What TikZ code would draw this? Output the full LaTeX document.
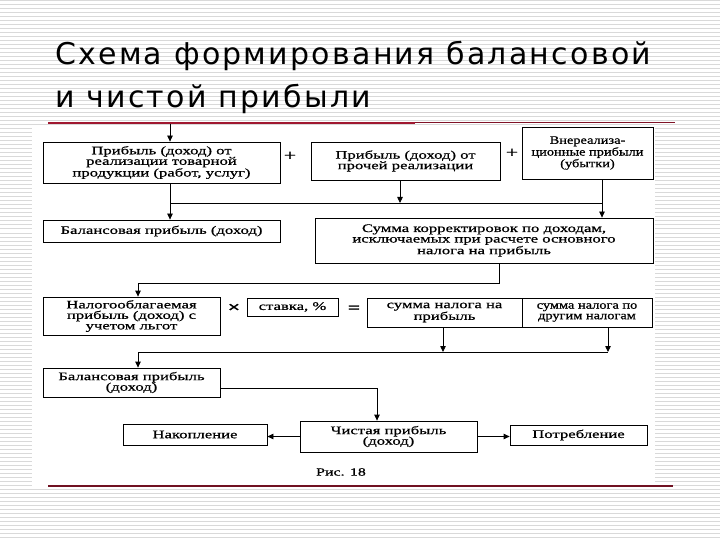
\documentclass[tikz,border=0pt]{standalone}
\usepackage{fontspec}
\setmainfont{Liberation Serif}
\newfontfamily\titlefont[LetterSpace=7.5]{DejaVu Sans}
\newfontfamily\boxfont[FakeStretch=1.45,FakeBold=0.8]{Liberation Serif}
\newfontfamily\boxfontn[FakeStretch=1.25,FakeBold=0.8]{Liberation Serif}
\usetikzlibrary{arrows.meta}
\definecolor{slidered}{HTML}{A01830}
\definecolor{stripe}{HTML}{D9D9D9}
\begin{document}
\begin{tikzpicture}[x=1pt,y=-1pt,
  box/.style={draw, line width=0.8pt, font=\boxfont\fontsize{11.5}{10.5}\selectfont, align=center, inner sep=0pt},
  narrow/.style={font=\boxfontn\fontsize{11.5}{10.5}\selectfont},
  ln/.style={line width=0.8pt},
  arr/.style={line width=0.8pt, -{Triangle[length=6pt,width=5.5pt]}},
  sym/.style={font=\boxfont\fontsize{15}{15}\selectfont, inner sep=0pt}]
\useasboundingbox (0,0) rectangle (720,540);
\fill[white] (0,0) rectangle (720,540);
\foreach \y in {1,5,...,539} \draw[stripe, line width=1pt] (0,\y) -- (720,\y);
\fill[white] (32,125) rectangle (655,487);
% title
\node[anchor=base west, inner sep=0pt, font=\titlefont\fontsize{30}{43}\selectfont] (t1) at (55,65) {Схема формирования балансовой};
\node[anchor=base west, inner sep=0pt, font=\titlefont\fontsize{30}{43}\selectfont] (t2) at (55,108) {и чистой прибыли};
\draw[slidered, line width=2.5pt] (48,123) -- (415,123);
\draw[slidered!80!black, line width=1pt] (415,123) -- (675,123);
\draw[slidered!70!black, line width=1.2pt] (48,486) -- (673,486);
% boxes
\node[box, minimum width=237pt, minimum height=41pt] (b1) at (161.5,162.5) {Прибыль (доход) от\\реализации товарной\\продукции (работ, услуг)};
\node[box, minimum width=189pt, minimum height=38pt] (b2) at (405.5,161) {Прибыль (доход) от\\прочей реализации};
\node[box, narrow, minimum width=131pt, minimum height=52pt] (b3) at (587.5,153) {Внереализа-\\ционные прибыли\\(убытки)};
\node[box, minimum width=237pt, minimum height=22pt] (b4) at (161.5,231) {Балансовая прибыль (доход)};
\node[box, minimum width=338pt, minimum height=45pt] (b6) at (484,240.5) {Сумма корректировок по доходам,\\исключаемых при расчете основного\\налога на прибыль};
\node[box, minimum width=177pt, minimum height=38pt] (b7) at (131.5,316) {Налогооблагаемая\\прибыль (доход) с\\учетом льгот};
\node[box, minimum width=91pt, minimum height=18pt] (b8) at (292.5,307) {ставка, \%};
\node[box, minimum width=155pt, minimum height=29pt] (b9) at (444.5,312.5) {сумма налога на\\прибыль};
\node[box, narrow, minimum width=130pt, minimum height=29pt] (b10) at (587,312.5) {сумма налога по\\другим налогам};
\node[box, minimum width=177pt, minimum height=29pt] (b11) at (131.5,382.5) {Балансовая прибыль\\(доход)};
\node[box, minimum width=177pt, minimum height=31pt] (b12) at (388.5,436.5) {Чистая прибыль\\(доход)};
\node[box, minimum width=144pt, minimum height=21pt] (b13) at (195,434.5) {Накопление};
\node[box, minimum width=137pt, minimum height=20pt] (b14) at (578.5,435) {Потребление};
\node[sym] (p1) at (290,156) {+};
\node[sym] (p2) at (512,153) {+};
\node[sym, font=\boxfont\bfseries\fontsize{15}{15}\selectfont] (mul) at (234,308) {×};
\node[sym, font=\boxfont\bfseries\fontsize{15}{15}\selectfont] (eq) at (354,309) {=};
\node[font=\boxfont\fontsize{11}{11}\selectfont, inner sep=0pt] (fig) at (341,472) {Рис. 18};
% connectors
\coordinate (top) at (170,124);
\coordinate (j1) at (170,203);
\coordinate (j2) at (602,203);
\coordinate (c2) at (400,203);
\draw[arr] (top) -- (top |- b1.north);
\draw[arr] (top |- b1.south) -- (top |- b4.north);
\draw[ln] (j1) -- (j2);
\draw[arr] (c2 |- b2.south) -- (c2);
\draw[arr] (j2 |- b3.south) -- (j2 |- b6.north);
\coordinate (k1) at (499,283);
\coordinate (k2) at (138,283);
\draw[arr] (k1 |- b6.south) -- (k1) -- (k2) -- (k2 |- b7.north);
\coordinate (m0) at (138,352);
\coordinate (m1) at (443,352);
\coordinate (m2) at (608,352);
\draw[arr] (m1 |- b9.south) -- (m1);
\draw[arr] (m2 |- b10.south) -- (m2);
\draw[ln] (m0) -- (m2);
\draw[arr] (m0) -- (m0 |- b11.north);
\coordinate (n1) at (377,388);
\draw[arr] (n1 -| b11.east) -- (n1) -- (n1 |- b12.north);
\draw[arr] (b12.west) -- (b12.west -| b13.east);
\draw[arr] (b12.east) -- (b12.east -| b14.west);
\end{tikzpicture}
\end{document}
